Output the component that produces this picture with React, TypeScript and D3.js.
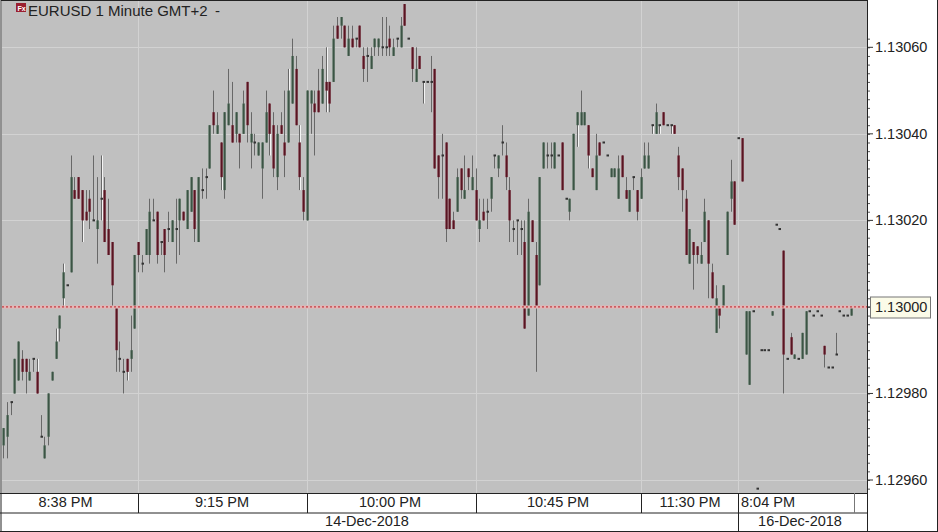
import { useEffect, useRef } from "react";
import * as d3 from "d3";

// prices are points relative to 1.13000 (1 point = 0.00001)
const opens = [
  -32,-30,-22,-20,-17,-12,-12,-17,-12,-15,
  -30,-35,-30,-17,-12,-5,2,5,8,27,
  30,27,22,25,20,18,25,27,18,15,
  0,-12,-15,-12,-12,-5,15,10,12,12,
  20,22,15,18,18,15,18,20,22,18,
  22,27,15,27,30,32,45,40,38,27,
  42,42,40,40,40,52,38,38,35,32,
  38,47,42,30,42,38,38,47,55,38,
  27,20,47,47,50,47,52,52,52,65,
  65,65,58,62,62,65,58,58,55,60,
  60,60,60,62,58,62,60,70,62,60,
  52,58,52,52,52,55,35,35,38,25,
  20,22,32,25,32,27,27,18,22,22,
  25,35,32,38,35,27,18,20,18,15,
  -2,20,12,5,32,35,35,32,35,38,
  25,22,27,42,42,42,42,32,27,38,
  38,35,30,30,25,35,27,22,30,27,
  25,32,32,42,40,42,45,42,42,42,
  35,32,25,10,15,14,10,15,20,8,
  -6,0,0,12,25,29,39,39,-11,-18,
  -1,-42,-10,-10,-10,-2,19,18,13,-12,
  -7,-12,-12,-12,-11,-1,-2,-1,-2,-9,
  -14,-14,-11,-1,-2,-2,-2,
];
const highs = [
  -28,-22,-22,-12,-8,-10,-12,-12,-12,-12,
  -25,-30,-20,-15,-5,-2,10,5,35,30,
  30,27,27,27,35,30,35,30,25,15,
  0,-8,-12,-12,-2,12,15,12,18,25,
  25,22,15,18,22,20,25,25,22,27,
  30,27,30,32,32,42,50,45,38,45,
  55,52,45,40,50,52,45,40,38,38,
  50,47,45,42,45,50,55,62,58,42,
  30,50,50,50,55,58,60,52,65,67,
  67,65,65,65,62,65,60,60,60,62,
  62,67,67,65,62,62,67,70,62,60,
  60,58,52,52,58,55,35,40,38,25,
  22,32,32,35,32,35,32,25,25,25,
  30,35,35,42,38,30,20,20,20,20,
  25,20,15,30,38,38,38,38,35,38,
  25,25,40,45,50,45,42,32,40,38,
  38,35,32,32,35,35,30,27,30,27,
  32,38,38,42,47,42,45,42,42,42,
  37,32,27,18,15,14,15,25,20,10,
  5,0,5,22,34,29,39,39,-1,-1,
  -1,-42,-10,-10,-10,-1,19,18,13,-12,
  -6,-11,-12,-6,-1,-1,-2,-1,-2,-9,
  -14,-14,-6,-1,-2,-2,0,
];
const lows = [
  -35,-35,-25,-20,-17,-17,-20,-17,-15,-20,
  -30,-35,-32,-17,-12,-8,0,5,8,25,
  25,15,20,18,20,10,20,15,12,0,
  -15,-15,-20,-17,-15,-5,8,8,12,10,
  20,10,12,8,15,15,10,12,20,18,
  22,15,15,25,25,32,40,40,27,25,
  42,38,38,32,40,38,32,35,35,25,
  38,35,30,27,40,30,38,47,42,27,
  20,20,40,35,45,47,45,45,52,62,
  62,60,58,60,60,60,52,52,55,58,
  58,58,58,58,58,60,60,65,62,52,
  52,55,47,52,45,32,25,25,15,18,
  18,22,25,25,27,27,20,15,20,18,
  22,32,30,35,27,15,15,12,12,-5,
  -2,15,-15,5,32,32,32,32,35,27,
  25,20,27,37,42,42,32,30,27,35,
  38,35,30,30,25,30,25,22,27,20,
  25,32,32,40,40,40,42,42,40,40,
  27,22,12,10,4,10,10,15,2,2,
  -6,-5,0,12,22,19,39,29,-11,-18,
  -1,-42,-10,-10,-10,-2,19,18,-20,-12,
  -11,-12,-12,-12,-11,-1,-2,-1,-2,-14,
  -14,-14,-11,-1,-2,-2,-2,
];
const closes = [
  -28,-25,-22,-12,-8,-15,-15,-15,-12,-20,
  -30,-32,-20,-15,-8,-2,8,5,30,25,
  25,20,20,22,20,20,25,15,12,5,
  -10,-12,-15,-15,-10,12,12,10,18,22,
  20,12,15,12,18,20,18,25,20,27,
  30,18,30,27,30,42,42,42,30,45,
  47,38,45,38,47,42,40,38,38,38,
  45,40,32,40,40,35,50,58,42,30,
  22,50,50,45,45,55,50,47,62,62,
  67,60,62,60,62,60,55,58,58,62,
  62,60,60,60,60,62,65,65,62,55,
  55,55,52,52,52,32,30,35,18,18,
  18,30,27,27,30,30,20,20,20,22,
  30,35,35,38,30,20,18,20,18,-5,
  22,15,0,30,38,35,35,38,35,27,
  25,25,40,45,45,45,35,30,35,35,
  38,35,32,32,32,30,25,27,30,22,
  30,35,35,42,45,42,42,42,42,40,
  30,27,12,18,12,12,12,22,10,2,
  2,-2,5,22,29,19,39,29,-1,-1,
  -1,-42,-10,-10,-10,-1,19,18,-11,-12,
  -11,-11,-12,-6,-1,-1,-2,-1,-2,-11,
  -14,-14,-11,-1,-2,-2,0,
];
// bars whose wick shows a white edge next to the dark line
const whiteEdgeBars = [4, 9, 14, 16, 21, 26, 33, 58, 71, 76, 79, 86, 112, 153, 156, 173, 175, 178, 179];

const priceTicks = [1.1296, 1.1298, 1.13, 1.1302, 1.1304, 1.1306];
const timeBreaks = [36, 81, 126, 170, 196, 227];
const timeLabels = ["8:38 PM", "9:15 PM", "10:00 PM", "10:45 PM", "11:30 PM", "8:04 PM"];
const timeLabelX = [65.5, 222, 390, 558, 690, 741];
const dateLabels = ["14-Dec-2018", "16-Dec-2018"];
const dateLabelX = [367, 800];
const lastPrice = 1.13;

const FONT = "Liberation Sans, Arial, sans-serif";

export default function App() {
  const ref = useRef<SVGSVGElement>(null);

  useEffect(() => {
    const svg = d3.select(ref.current);
    svg.selectAll("*").remove();

    const plot = { left: 2, top: 1, right: 867, bottom: 493 };
    const x = d3.scaleLinear().domain([0, 226]).range([3, 850.7]);
    const y = d3.scaleLinear().domain([1.1296, 1.1306]).range([480, 47.3]);
    const py = (p: number) => y(1.13 + p / 100000);
    const snap = (v: number) => Math.round(v);

    svg.append("rect").attr("width", 938).attr("height", 532).attr("fill", "#fff");
    svg.append("rect")
      .attr("x", plot.left).attr("y", plot.top)
      .attr("width", plot.right - plot.left).attr("height", plot.bottom - plot.top)
      .attr("fill", "#c0c0c0");

    // grid
    svg.append("g").selectAll("line").data(priceTicks).join("line")
      .attr("x1", plot.left).attr("x2", plot.right)
      .attr("y1", (d) => snap(y(d)) + 0.5).attr("y2", (d) => snap(y(d)) + 0.5)
      .attr("stroke", "#d2d2d2");
    svg.append("g").selectAll("line").data(timeBreaks.slice(0, -1)).join("line")
      .attr("x1", (d) => snap(x(d)) + 0.5).attr("x2", (d) => snap(x(d)) + 0.5)
      .attr("y1", plot.top).attr("y2", plot.bottom)
      .attr("stroke", "#d2d2d2");

    // candles
    const bars = d3.range(opens.length);
    const g = svg.append("g");
    g.selectAll("line.edge").data(whiteEdgeBars).join("line")
      .attr("class", "edge")
      .attr("x1", (i) => snap(x(i)) + 1.5).attr("x2", (i) => snap(x(i)) + 1.5)
      .attr("y1", (i) => py(highs[i])).attr("y2", (i) => py(lows[i]))
      .attr("stroke", "#f4f4f4");
    g.selectAll("line.wick").data(bars).join("line")
      .attr("class", "wick")
      .attr("x1", (i) => snap(x(i)) + 0.5).attr("x2", (i) => snap(x(i)) + 0.5)
      .attr("y1", (i) => py(highs[i])).attr("y2", (i) => py(lows[i]))
      .attr("stroke", "#686868");
    g.selectAll("rect.body").data(bars.filter((i) => opens[i] !== closes[i])).join("rect")
      .attr("class", "body")
      .attr("x", (i) => snap(x(i)) - 1)
      .attr("width", 3)
      .attr("y", (i) => py(Math.max(opens[i], closes[i])))
      .attr("height", (i) => Math.abs(py(opens[i]) - py(closes[i])))
      .attr("fill", (i) => (closes[i] >= opens[i] ? "#7b8d81" : "#91606a"));
    g.selectAll("rect.core").data(bars.filter((i) => opens[i] !== closes[i])).join("rect")
      .attr("class", "core")
      .attr("x", (i) => snap(x(i)))
      .attr("width", 1.4)
      .attr("y", (i) => py(Math.max(opens[i], closes[i])))
      .attr("height", (i) => Math.abs(py(opens[i]) - py(closes[i])))
      .attr("fill", (i) => (closes[i] >= opens[i] ? "#3c5445" : "#581522"));
    // doji tick
    g.selectAll("rect.doji").data(bars.filter((i) => opens[i] === closes[i])).join("rect")
      .attr("class", "doji")
      .attr("x", (i) => snap(x(i)) - 0.5)
      .attr("width", 2.5)
      .attr("y", (i) => py(opens[i]) - 1)
      .attr("height", 2)
      .attr("fill", "#333");

    // last price line
    svg.append("line")
      .attr("x1", plot.left).attr("x2", plot.right)
      .attr("y1", y(lastPrice)).attr("y2", y(lastPrice))
      .attr("stroke", "#e6b4b4").attr("stroke-width", 3);
    svg.append("line")
      .attr("x1", plot.left).attr("x2", plot.right)
      .attr("y1", y(lastPrice)).attr("y2", y(lastPrice))
      .attr("stroke", "#b8202a").attr("stroke-dasharray", "2 2");

    // price axis
    const axis = d3.axisRight(y)
      .tickValues(d3.range(0, 53).map((k) => 1.1296 + (k - 1) * 0.00002).filter((v) => y(v) > 3 && y(v) < 492))
      .tickSize(0)
      .tickFormat(() => "");
    const ag = svg.append("g").attr("transform", `translate(${plot.right},0)`).call(axis);
    ag.select(".domain").remove();
    ag.selectAll("g.tick line").attr("x2", 3).attr("stroke", "#555");
    svg.append("g").selectAll("line").data(priceTicks).join("line")
      .attr("x1", plot.right).attr("x2", plot.right + 6)
      .attr("y1", (d) => y(d)).attr("y2", (d) => y(d))
      .attr("stroke", "#333");
    svg.append("g").selectAll("text").data(priceTicks.filter((d) => d !== lastPrice)).join("text")
      .attr("x", 875).attr("y", (d) => y(d) + 5)
      .attr("font-family", FONT).attr("font-size", 14.5).attr("fill", "#222")
      .text((d) => d.toFixed(5));

    // last price tag
    svg.append("rect")
      .attr("x", 870.5).attr("y", 297).attr("width", 60).attr("height", 21)
      .attr("fill", "#fbfbe8").attr("stroke", "#777");
    svg.append("text")
      .attr("x", 875).attr("y", y(lastPrice) + 5)
      .attr("font-family", FONT).attr("font-size", 14.5).attr("fill", "#222")
      .text(lastPrice.toFixed(5));

    // title
    svg.append("rect").attr("x", 16).attr("y", 3).attr("width", 10).attr("height", 9).attr("fill", "#9a1f30");
    svg.append("text")
      .attr("x", 17.5).attr("y", 10.5)
      .attr("font-family", FONT).attr("font-size", 7).attr("font-weight", "bold").attr("fill", "#fff")
      .text("Fx");
    svg.append("text")
      .attr("x", 28).attr("y", 15.5)
      .attr("font-family", FONT).attr("font-size", 15).attr("fill", "#222")
      .text("EURUSD 1 Minute GMT+2");
    svg.append("text")
      .attr("x", 215).attr("y", 15.5)
      .attr("font-family", FONT).attr("font-size", 15).attr("fill", "#222")
      .text("-");

    // time row
    const frame = svg.append("g").attr("fill", "none").attr("stroke", "#222");
    frame.append("path").attr("d", `M1,0.5H867.5 M1,0V532 M0,493.5H867.5 M0,513H867.5 M0,531.5H938 M867.5,0V532 M937.5,0V532`);
    svg.append("g").selectAll("line").data(timeBreaks).join("line")
      .attr("x1", (d) => snap(x(d)) + 0.5).attr("x2", (d) => snap(x(d)) + 0.5)
      .attr("y1", 493).attr("y2", 513)
      .attr("stroke", (d) => (d === 227 ? "#777" : "#222"));
    svg.append("line")
      .attr("x1", snap(x(196)) + 0.5).attr("x2", snap(x(196)) + 0.5)
      .attr("y1", 513).attr("y2", 531)
      .attr("stroke", "#222");

    svg.append("g").selectAll("text").data(timeLabels).join("text")
      .attr("x", (d, k) => timeLabelX[k])
      .attr("text-anchor", (d, k) => (k === 5 ? "start" : "middle"))
      .attr("y", 507)
      .attr("font-family", FONT).attr("font-size", 14.5).attr("fill", "#222")
      .text((d) => d);
    svg.append("g").selectAll("text").data(dateLabels).join("text")
      .attr("x", (d, k) => dateLabelX[k])
      .attr("text-anchor", "middle")
      .attr("y", 526)
      .attr("font-family", FONT).attr("font-size", 14.5).attr("fill", "#222")
      .text((d) => d);
  }, []);

  return <svg ref={ref} width={938} height={532} style={{ position: "absolute", left: 0, top: 0 }} />;
}
